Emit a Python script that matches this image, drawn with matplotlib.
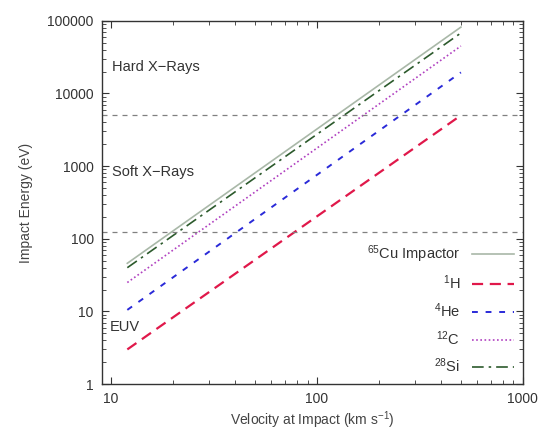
import numpy as np
import matplotlib
matplotlib.use('Agg')
import matplotlib.pyplot as plt

plt.rcParams['font.family'] = ['Liberation Sans', 'DejaVu Sans']
plt.rcParams['mathtext.default'] = 'regular'

# velocity range (km/s) for every impactor
velocity = [12, 500]

# impact energy (eV) at the two ends of each line
energy_cu = [46, 82000]
energy_h = [3.0, 5000]
energy_he = [10.5, 19500]
energy_c = [25, 45000]
energy_si = [40, 68000]

# band limits (eV)
soft_xray_limit = 5000
euv_limit = 124

fig = plt.figure(figsize=(5.43, 4.34), dpi=100)
ax = fig.add_axes([0.188, 0.115, 0.775, 0.837])

ax.plot(velocity, energy_cu, color='#a9b8a8', lw=1.2, label=r'$^{65}$Cu Impactor')
ax.plot(velocity, energy_h, color='#e0184a', lw=1.6, ls=(0, (5, 3)), label=r'$^{1}$H')
ax.plot(velocity, energy_he, color='#2a2ad8', lw=1.4, ls=(0, (3, 4)), label=r'$^{4}$He')
ax.plot(velocity, energy_c, color='#b040c0', lw=1.2, ls=(0, (1, 1.5)), label=r'$^{12}$C')
ax.plot(velocity, energy_si, color='#2c5a2c', lw=1.2, ls=(0, (7, 3, 1.5, 3)), label=r'$^{28}$Si')

ax.axhline(soft_xray_limit, color='#808080', lw=0.9, ls=(0, (4, 4)))
ax.axhline(euv_limit, color='#808080', lw=0.9, ls=(0, (4, 4)))

ax.set_xscale('log')
ax.set_yscale('log')
ax.set_xlim(9.05, 1000)
ax.set_ylim(1, 100000)
ax.set_xticks([10, 100, 1000])
ax.set_xticklabels(['10', '100', '1000'])
ax.set_yticks([1, 10, 100, 1000, 10000, 100000])
ax.set_yticklabels(['1', '10', '100', '1000', '10000', '100000'])
ax.tick_params(which='both', direction='in', top=True, right=True, labelsize=10, colors='#333333')
ax.tick_params(which='major', length=5, pad=6)
ax.tick_params(which='minor', length=3)
for s in ax.spines.values():
    s.set_color('#333333')
    s.set_linewidth(1.0)

ax.text(10.1, 23000, 'Hard X\u2212Rays', fontsize=10.5, color='#333333', va='center')
ax.text(10.1, 830, 'Soft X\u2212Rays', fontsize=10.5, color='#333333', va='center')
ax.text(9.9, 6.1, 'EUV', fontsize=10.5, color='#333333', va='center')

ax.set_xlabel(r'Velocity at Impact (km s$^{-1}$)', fontsize=10, color='#444444', labelpad=2)
ax.set_ylabel('Impact Energy (eV)', fontsize=10, color='#444444', labelpad=10)

leg = ax.legend(loc='lower right', frameon=False, markerfirst=False, fontsize=10.5,
                handlelength=2.9, labelspacing=0.62, borderaxespad=0.2, handletextpad=0.8)
for t in leg.get_texts():
    t.set_color('#333333')

fig.savefig('out.png', dpi=100)
